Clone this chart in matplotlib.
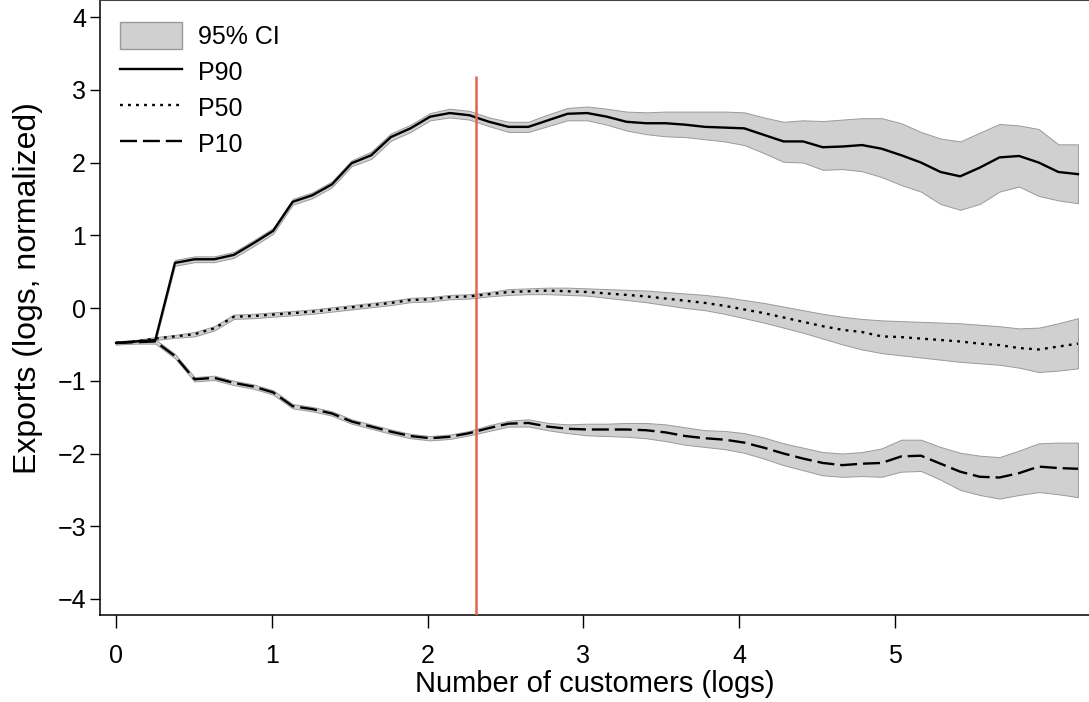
import numpy as np
import matplotlib
matplotlib.use('Agg')
import matplotlib.pyplot as plt
from matplotlib.patches import Patch
from matplotlib.lines import Line2D

plt.rcParams['font.family'] = ['Liberation Sans', 'DejaVu Sans']

# bins of number of customers (logs)
x = np.arange(50) * 0.126

# P90 percentile and its 95% CI
p90 = [-0.48, -0.46, -0.44, 0.62, 0.67, 0.67, 0.73, 0.89, 1.06, 1.46,
       1.55, 1.70, 1.99, 2.10, 2.35, 2.47, 2.63, 2.68, 2.65, 2.56,
       2.49, 2.49, 2.58, 2.67, 2.68, 2.63, 2.56, 2.54, 2.54, 2.52,
       2.49, 2.48, 2.47, 2.38, 2.29, 2.29, 2.21, 2.22, 2.24, 2.19,
       2.10, 2.00, 1.87, 1.81, 1.93, 2.07, 2.09, 2.00, 1.87, 1.84]
p90_hi = [-0.46, -0.44, -0.41, 0.66, 0.71, 0.71, 0.77, 0.93, 1.10, 1.50,
          1.59, 1.74, 2.03, 2.15, 2.40, 2.52, 2.68, 2.74, 2.71, 2.62,
          2.56, 2.56, 2.66, 2.75, 2.77, 2.74, 2.70, 2.69, 2.70, 2.70,
          2.70, 2.70, 2.69, 2.62, 2.56, 2.58, 2.57, 2.59, 2.61, 2.61,
          2.54, 2.42, 2.33, 2.29, 2.41, 2.53, 2.51, 2.46, 2.25, 2.25]
p90_lo = [-0.50, -0.48, -0.47, 0.58, 0.63, 0.63, 0.69, 0.85, 1.02, 1.42,
          1.51, 1.66, 1.95, 2.05, 2.30, 2.42, 2.58, 2.62, 2.59, 2.50,
          2.42, 2.42, 2.50, 2.58, 2.58, 2.52, 2.44, 2.39, 2.36, 2.35,
          2.32, 2.29, 2.24, 2.13, 2.01, 2.00, 1.90, 1.91, 1.88, 1.80,
          1.69, 1.60, 1.43, 1.35, 1.43, 1.60, 1.67, 1.54, 1.48, 1.44]

# P50
p50 = [-0.48, -0.46, -0.42, -0.39, -0.36, -0.28, -0.12, -0.11, -0.09, -0.07,
       -0.05, -0.02, 0.01, 0.04, 0.07, 0.11, 0.12, 0.15, 0.16, 0.19,
       0.22, 0.23, 0.24, 0.23, 0.22, 0.20, 0.18, 0.16, 0.13, 0.10,
       0.07, 0.03, -0.02, -0.07, -0.13, -0.19, -0.25, -0.30, -0.33, -0.39,
       -0.40, -0.42, -0.44, -0.46, -0.49, -0.51, -0.55, -0.57, -0.53, -0.49]
p50_hi = [-0.46, -0.44, -0.40, -0.37, -0.33, -0.25, -0.09, -0.08, -0.06, -0.04,
          -0.02, 0.01, 0.04, 0.07, 0.10, 0.14, 0.15, 0.18, 0.19, 0.22,
          0.26, 0.27, 0.28, 0.28, 0.27, 0.26, 0.25, 0.24, 0.22, 0.20,
          0.18, 0.15, 0.11, 0.07, 0.02, -0.03, -0.08, -0.12, -0.15, -0.17,
          -0.18, -0.19, -0.20, -0.21, -0.23, -0.25, -0.28, -0.27, -0.21, -0.14]
p50_lo = [-0.50, -0.48, -0.44, -0.41, -0.39, -0.31, -0.15, -0.14, -0.12, -0.10,
          -0.08, -0.05, -0.02, 0.01, 0.04, 0.08, 0.09, 0.12, 0.13, 0.16,
          0.18, 0.19, 0.19, 0.18, 0.17, 0.14, 0.11, 0.08, 0.04, 0.00,
          -0.03, -0.08, -0.14, -0.20, -0.27, -0.34, -0.42, -0.50, -0.57, -0.62,
          -0.65, -0.68, -0.71, -0.74, -0.76, -0.78, -0.82, -0.88, -0.86, -0.83]

# P10
p10 = [-0.48, -0.47, -0.46, -0.66, -0.98, -0.96, -1.03, -1.08, -1.16, -1.35,
       -1.39, -1.45, -1.56, -1.63, -1.70, -1.76, -1.79, -1.77, -1.72, -1.65,
       -1.59, -1.58, -1.63, -1.66, -1.67, -1.67, -1.67, -1.68, -1.71, -1.76,
       -1.79, -1.81, -1.85, -1.92, -2.00, -2.07, -2.13, -2.16, -2.14, -2.13,
       -2.04, -2.03, -2.14, -2.25, -2.32, -2.33, -2.27, -2.18, -2.20, -2.21]
p10_hi = [-0.46, -0.45, -0.43, -0.63, -0.95, -0.93, -1.00, -1.05, -1.13, -1.32,
          -1.36, -1.42, -1.53, -1.60, -1.67, -1.73, -1.76, -1.74, -1.69, -1.61,
          -1.55, -1.53, -1.58, -1.60, -1.59, -1.59, -1.58, -1.58, -1.60, -1.64,
          -1.68, -1.69, -1.72, -1.78, -1.86, -1.92, -1.98, -2.00, -1.98, -1.93,
          -1.81, -1.81, -1.91, -1.99, -2.03, -2.05, -1.96, -1.86, -1.85, -1.85]
p10_lo = [-0.50, -0.49, -0.49, -0.69, -1.01, -0.99, -1.06, -1.11, -1.19, -1.38,
          -1.42, -1.48, -1.59, -1.66, -1.73, -1.79, -1.82, -1.80, -1.75, -1.69,
          -1.63, -1.63, -1.68, -1.72, -1.75, -1.76, -1.77, -1.79, -1.83, -1.88,
          -1.91, -1.94, -1.99, -2.07, -2.16, -2.23, -2.30, -2.32, -2.31, -2.32,
          -2.25, -2.24, -2.36, -2.50, -2.57, -2.62, -2.57, -2.53, -2.56, -2.60]

red_x = 2.31
red_top = 3.19

xticks = [0, 1, 2, 3, 4, 5]
yticks = [-4, -3, -2, -1, 0, 1, 2, 3, 4]

band_col = '#d0d0d0'
band_edge = '#9a9a9a'
dotted = (0, (1.2, 2.2))
dashed = (0, (7.2, 2.5))

fig = plt.figure(figsize=(10.89, 7.02), dpi=100)
ax = fig.add_axes([100/1089, 87/702, 989/1089, 615/702])

for lo, hi in [(p90_lo, p90_hi), (p50_lo, p50_hi), (p10_lo, p10_hi)]:
    ax.fill_between(x, lo, hi, facecolor=band_col, edgecolor=band_edge, linewidth=0.7, zorder=1)

ax.plot(x, p90, color='black', lw=1.7, ls='-', zorder=3)
ax.plot(x, p50, color='black', lw=1.7, ls=dotted, zorder=3)
ax.plot(x, p10, color='black', lw=1.7, ls=dashed, zorder=3)

ax.vlines(red_x, -4.22, red_top, color='#e5634f', lw=1.8, zorder=4)

ax.set_xlim(-0.103, 6.245)
ax.set_ylim(-4.22, 4.234)
ax.set_xticks(xticks)
ax.set_yticks(yticks)
ax.set_yticklabels(['\u22124', '\u22123', '\u22122', '\u22121', '0', '1', '2', '3', '4'])
ax.tick_params(direction='out', width=1, labelsize=18)
ax.tick_params(axis='x', length=9, pad=12)
ax.tick_params(axis='y', length=7, pad=3)

ax.spines['right'].set_visible(False)
ax.spines['top'].set_color('#444444')
for s in ['left', 'bottom']:
    ax.spines[s].set_linewidth(1.1)

ax.set_xlabel('Number of customers (logs)', fontsize=21, labelpad=1)
ax.set_ylabel('Exports (logs, normalized)', fontsize=23)
ax.yaxis.set_label_coords(-0.058, 0.532)

handles = [Patch(facecolor=band_col, edgecolor=band_edge, linewidth=1),
           Line2D([], [], color='black', lw=1.7, ls='-'),
           Line2D([], [], color='black', lw=1.7, ls=dotted),
           Line2D([], [], color='black', lw=1.7, ls=dashed)]
ax.legend(handles, ['95% CI', 'P90', 'P50', 'P10'], loc='upper left',
          bbox_to_anchor=(0.02, 0.965), frameon=False, fontsize=18,
          handlelength=2.48, handleheight=1.3, handletextpad=0.64,
          labelspacing=0.36, borderpad=0, borderaxespad=0)

fig.savefig('out.png', dpi=100)
